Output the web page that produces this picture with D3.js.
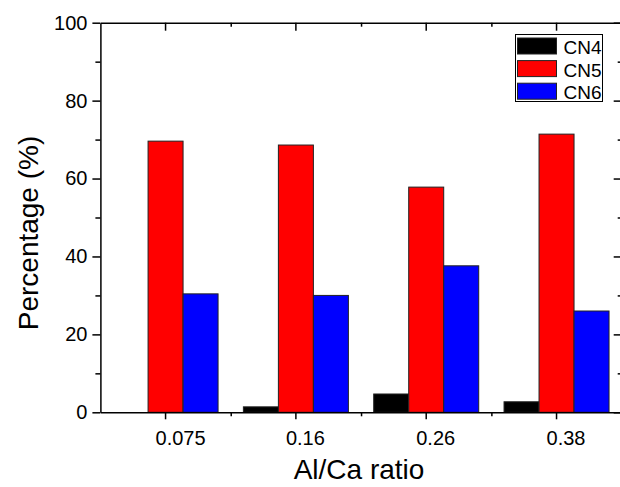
<!DOCTYPE html>
<html>
<head>
    <script src="https://d3js.org/d3.v7.min.js"></script>
    <style>
        body { margin: 0; background: #fff; }
        svg { display: block; font-family: Arial, "Liberation Sans", sans-serif; }
        .axis path, .axis line { stroke: #000; stroke-width: 1.5px; }
        .axis text { font-size: 20px; fill: #000; font-family: Arial, "Liberation Sans", sans-serif; }
    </style>
</head>
<body>
    <svg width="620" height="487"></svg>
    <script>
        // data
        var categories = ["0.075", "0.16", "0.26", "0.38"];
        var seriesNames = ["CN4", "CN5", "CN6"];
        var cn4 = [0, 1.4, 4.7, 2.7];
        var cn5 = [69.6, 68.6, 57.8, 71.4];
        var cn6 = [30.4, 30.0, 37.6, 26.0];
        var yTicks = [0, 20, 40, 60, 80, 100];
        var yMinor = [10, 30, 50, 70, 90];

        var colors = {CN4: "#000000", CN5: "#ff0000", CN6: "#0000ff"};
        var values = {CN4: cn4, CN5: cn5, CN6: cn6};

        // plot frame (note: "top" is a reserved window global, so use other names)
        var svg = d3.select("svg"),
            plotLeft = 100.4, plotRight = 621.7, plotTop = 22.7, plotBottom = 412.3;

        var x0 = d3.scaleBand().domain(categories).range([plotLeft, plotRight]).padding(0);
        var xi = d3.scaleLinear().domain([0, categories.length]).range([plotLeft, plotRight]);
        var groupW = 105;
        var x1 = d3.scaleBand().domain(seriesNames)
            .range([(x0.bandwidth() - groupW) / 2, (x0.bandwidth() + groupW) / 2]);
        var y = d3.scaleLinear().domain([0, 100]).range([plotBottom, plotTop]);

        // bars
        var rows = categories.map(function(c, i) {
            return {cat: c, vals: seriesNames.map(function(s) { return {key: s, value: values[s][i]}; })};
        });

        svg.append("g").selectAll("g")
            .data(rows)
            .enter().append("g")
            .attr("transform", function(d) { return "translate(" + x0(d.cat) + ",0)"; })
            .selectAll("rect")
            .data(function(d) { return d.vals.filter(function(v) { return v.value > 0; }); })
            .enter().append("rect")
            .attr("x", function(d) { return x1(d.key); })
            .attr("width", x1.bandwidth())
            .attr("y", function(d) { return y(d.value); })
            .attr("height", function(d) { return y(0) - y(d.value); })
            .attr("fill", function(d) { return colors[d.key]; })
            .attr("stroke", "#222")
            .attr("stroke-width", 1);

        // bottom axis
        var bAxis = svg.append("g").attr("class", "axis")
            .attr("transform", "translate(0," + plotBottom + ")")
            .call(d3.axisBottom(x0).tickSize(7).tickPadding(12).tickSizeOuter(0));
        bAxis.selectAll("text").attr("text-anchor", "start").attr("x", -10);
        svg.append("g").attr("class", "axis")
            .attr("transform", "translate(0," + plotBottom + ")")
            .call(d3.axisBottom(xi).tickValues([1, 2, 3]).tickSize(4).tickFormat(""))
            .select(".domain").remove();

        // top axis (inward ticks)
        svg.append("g").attr("class", "axis")
            .attr("transform", "translate(0," + plotTop + ")")
            .call(d3.axisTop(x0).tickSize(-8).tickFormat("").tickSizeOuter(0));
        svg.append("g").attr("class", "axis")
            .attr("transform", "translate(0," + plotTop + ")")
            .call(d3.axisTop(xi).tickValues([1, 2, 3]).tickSize(-4).tickFormat(""))
            .select(".domain").remove();

        // left axis
        svg.append("g").attr("class", "axis")
            .attr("transform", "translate(" + plotLeft + ",0)")
            .call(d3.axisLeft(y).tickValues(yTicks).tickSize(8).tickPadding(5).tickSizeOuter(0));
        svg.append("g").attr("class", "axis")
            .attr("transform", "translate(" + plotLeft + ",0)")
            .call(d3.axisLeft(y).tickValues(yMinor).tickSize(5).tickFormat(""))
            .select(".domain").remove();

        // right axis (inward ticks)
        svg.append("g").attr("class", "axis")
            .attr("transform", "translate(" + plotRight + ",0)")
            .call(d3.axisRight(y).tickValues(yTicks).tickSize(-8).tickFormat("").tickSizeOuter(0));
        svg.append("g").attr("class", "axis")
            .attr("transform", "translate(" + plotRight + ",0)")
            .call(d3.axisRight(y).tickValues(yMinor).tickSize(-4).tickFormat(""))
            .select(".domain").remove();

        // axis titles
        svg.append("text")
            .attr("x", 359).attr("y", 479)
            .attr("text-anchor", "middle")
            .attr("font-size", 28)
            .text("Al/Ca ratio");

        svg.append("text")
            .attr("transform", "translate(37.5,233) rotate(-90)")
            .attr("text-anchor", "middle")
            .attr("font-size", 28)
            .text("Percentage (%)");

        // legend
        var legend = svg.append("g").attr("transform", "translate(515.5,34.5)");
        legend.append("rect")
            .attr("width", 87).attr("height", 67)
            .attr("fill", "#fff").attr("stroke", "#000").attr("stroke-width", 1);
        var items = legend.selectAll("g.item")
            .data(seriesNames)
            .enter().append("g")
            .attr("class", "item")
            .attr("transform", function(d, i) { return "translate(0," + (i * 22.6) + ")"; });
        items.append("rect")
            .attr("x", 2).attr("y", 3.5)
            .attr("width", 39).attr("height", 16)
            .attr("fill", function(d) { return colors[d]; })
            .attr("stroke", "#222").attr("stroke-width", 1);
        items.append("text")
            .attr("x", 48).attr("y", 19.5)
            .attr("font-size", 19)
            .text(function(d) { return d; });
    </script>
</body>
</html>
